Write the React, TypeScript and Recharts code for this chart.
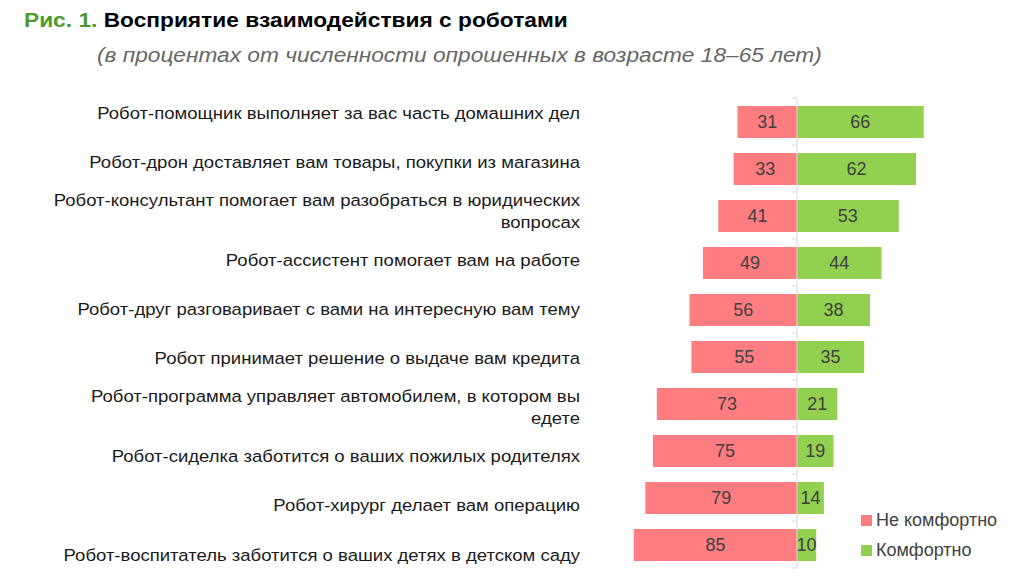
import React from 'react';
import {
  BarChart,
  Bar,
  XAxis,
  YAxis,
  LabelList,
  ReferenceLine,
} from 'recharts';

const CATEGORIES: string[][] = [
  ['Робот-помощник выполняет за вас часть домашних дел'],
  ['Робот-дрон доставляет вам товары, покупки из магазина'],
  ['Робот-консультант помогает вам разобраться в юридических', 'вопросах'],
  ['Робот-ассистент помогает вам на работе'],
  ['Робот-друг разговаривает с вами на интересную вам тему'],
  ['Робот принимает решение о выдаче вам кредита'],
  ['Робот-программа управляет автомобилем, в котором вы', 'едете'],
  ['Робот-сиделка заботится о ваших пожилых родителях'],
  ['Робот-хирург делает вам операцию'],
  ['Робот-воспитатель заботится о ваших детях в детском саду'],
];

const UNCOMFORTABLE = [31, 33, 41, 49, 56, 55, 73, 75, 79, 85];
const COMFORTABLE = [66, 62, 53, 44, 38, 35, 21, 19, 14, 10];

const SERIES_NAMES = ['Не комфортно', 'Комфортно'];
const RED = '#FF7C80';
const GREEN = '#92D050';
const FONT = "Arial, 'Liberation Sans', sans-serif";

const data = CATEGORIES.map((lines, i) => ({
  name: lines.join(' '),
  lines,
  neg: -UNCOMFORTABLE[i],
  pos: COMFORTABLE[i],
}));

const W = 1010;
const H = 576;
const MARGIN = { top: 98, right: 21, bottom: 8, left: 0 };
const Y_AXIS_W = 605;
const PLOT_W = W - MARGIN.left - MARGIN.right - Y_AXIS_W;
const PLOT_H = H - MARGIN.top - MARGIN.bottom;
const BAND = PLOT_H / CATEGORIES.length;
const ZERO_X = MARGIN.left + Y_AXIS_W + PLOT_W / 2;
const MID_Y = MARGIN.top + PLOT_H / 2;
const LABEL_X = 580;

function CategoryTick(props: any) {
  const { y, payload, index } = props;
  const lines: string[] = data[index]?.lines ?? [payload.value];
  // labels in the source spread a little wider than the bars
  const cy = y + (y - MID_Y) * 0.044 + 1;
  const lh = 22;
  const startY = cy - ((lines.length - 1) * lh) / 2;
  const isLast = index === data.length - 1;
  return (
    <g>
      <text
        x={LABEL_X}
        y={startY}
        textAnchor="end"
        fontFamily={FONT}
        fontSize={17}
        fill="#1a1a1a"
        dominantBaseline="central"
        transform={`translate(${LABEL_X},0) scale(1.09,1) translate(${-LABEL_X},0)`}
      >
        {lines.map((l, i) => (
          <tspan key={i} x={LABEL_X} y={startY + i * lh}>
            {l}
          </tspan>
        ))}
      </text>
      <line x1={ZERO_X - 5} x2={ZERO_X} y1={y - BAND / 2} y2={y - BAND / 2} stroke="#d9d9d9" />
      {isLast && (
        <line x1={ZERO_X - 5} x2={ZERO_X} y1={y + BAND / 2} y2={y + BAND / 2} stroke="#d9d9d9" />
      )}
    </g>
  );
}

function LegendBox() {
  const colors = [RED, GREEN];
  return (
    <div
      style={{
        position: 'absolute',
        left: 861,
        top: 505,
        fontFamily: FONT,
        fontSize: 18,
        color: '#404040',
        whiteSpace: 'nowrap',
      }}
    >
      {SERIES_NAMES.map((n, i) => (
        <div key={n} style={{ display: 'flex', alignItems: 'center', height: 30 }}>
          <span style={{ width: 11, height: 11, background: colors[i], marginRight: 4, display: 'inline-block' }} />
          {n}
        </div>
      ))}
    </div>
  );
}

export default function App() {
  return (
    <div style={{ position: 'absolute', left: 0, top: 0, width: W, height: H, background: '#fff' }}>
      <div
        style={{
          position: 'absolute',
          left: 24,
          top: 9,
          fontFamily: FONT,
          fontWeight: 'bold',
          fontSize: 20,
          color: '#000',
          whiteSpace: 'nowrap',
          transform: 'scaleX(1.136)',
          transformOrigin: 'left top',
        }}
      >
        <span style={{ color: '#4E9A2E' }}>Рис. 1.</span> Восприятие взаимодействия с роботами
      </div>
      <div
        style={{
          position: 'absolute',
          left: 97,
          top: 44,
          fontFamily: FONT,
          fontStyle: 'italic',
          fontSize: 20,
          color: '#666666',
          whiteSpace: 'nowrap',
          transform: 'scaleX(1.134)',
          transformOrigin: 'left top',
        }}
      >
        (в процентах от численности опрошенных в возрасте 18–65 лет)
      </div>
      <BarChart
        width={W}
        height={H}
        data={data}
        layout="vertical"
        margin={MARGIN}
        stackOffset="sign"
        barSize={32}
      >
        <XAxis type="number" domain={[-100, 100]} hide />
        <YAxis
          type="category"
          dataKey="name"
          width={Y_AXIS_W}
          axisLine={false}
          tickLine={false}
          tick={<CategoryTick />}
          interval={0}
        />
        <Bar dataKey="neg" name={SERIES_NAMES[0]} stackId="a" fill={RED} isAnimationActive={false}>
          <LabelList
            dataKey="neg"
            position="center"
            formatter={(v: any) => Math.abs(Number(v))}
            fill="#404040"
            fontSize={18}
            fontFamily={FONT}
          />
        </Bar>
        <Bar dataKey="pos" name={SERIES_NAMES[1]} stackId="a" fill={GREEN} isAnimationActive={false}>
          <LabelList dataKey="pos" position="center" fill="#404040" fontSize={18} fontFamily={FONT} />
        </Bar>
        <ReferenceLine x={0} stroke="#d9d9d9" strokeWidth={1} />
      </BarChart>
      <LegendBox />
    </div>
  );
}
